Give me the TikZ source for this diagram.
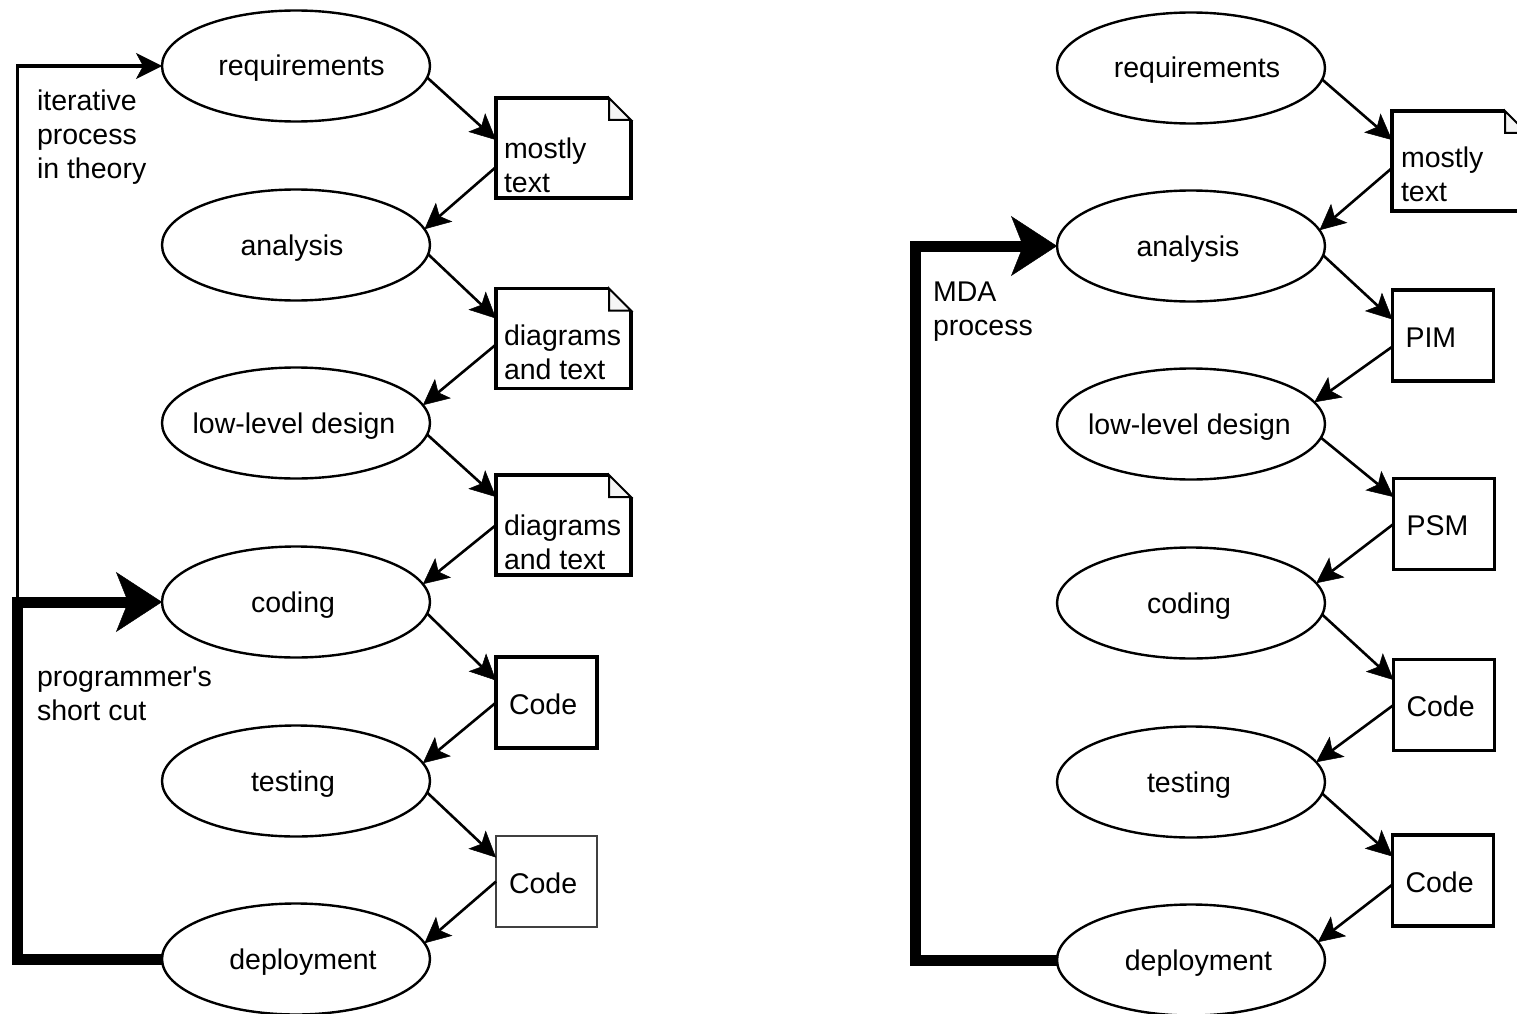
\documentclass[tikz,border=0pt]{standalone}
\usepackage{fontspec}
\setmainfont{Liberation Sans}
\usetikzlibrary{arrows.meta,shapes.geometric,calc}

\newcommand\ctext[2]{\makebox[0pt]{\hspace*{#1}#2}}
\newcommand\docoutline[2]{%
  \draw[line width=#2] ([xshift=-22pt]#1.north east) -- (#1.north west) -- (#1.south west) -- (#1.south east) -- ([yshift=-22pt]#1.north east);
  \draw[line width=2pt, fill=gray!8, line join=miter] ([xshift=-22pt]#1.north east) -- ([xshift=-22pt,yshift=-22pt]#1.north east) -- ([yshift=-22pt]#1.north east) -- cycle;
}

\begin{document}
\begin{tikzpicture}[x=1pt,y=-1pt,
  every node/.style={font=\fontsize{28.5}{34}\selectfont, inner sep=0pt, outer sep=0pt},
  proc/.style={ellipse, draw, line width=2.4pt, minimum width=268pt, minimum height=111pt, text height=22pt, text depth=2pt},
  codebox/.style={rectangle, draw, line width=3.3pt, minimum width=101pt, minimum height=91pt, inner xsep=13pt, text width=75pt, align=left, text height=24pt, text depth=1pt},
  docbox/.style={rectangle, minimum width=135pt, minimum height=100pt},
  doctext/.style={anchor=north west, align=left},
  flow/.style={line width=2.6pt, -{Stealth[length=26pt,width=25pt,inset=6pt,line width=0.5pt]}},
  thinloop/.style={line width=3.2pt, line join=miter, -{Stealth[length=26pt,width=26pt,inset=7pt,line width=0.5pt]}},
  bigloop/.style={line width=11pt, line join=miter, -{Stealth[length=46pt,width=60pt,inset=12pt,line width=0.5pt]}},
]
\fill[white] (0,0) rectangle (1517,1014);
\useasboundingbox (0,0) rectangle (1517,1014);

% ---------------- left diagram ----------------
\node[proc] (rl) at (296,66)  {\ctext{11pt}{requirements}};
\node[proc] (al) at (296,245) {\ctext{-8pt}{analysis}};
\node[proc] (ll) at (296,423) {\ctext{-4pt}{low-level design}};
\node[proc] (cl) at (296,602) {\ctext{-6pt}{coding}};
\node[proc] (tl) at (296,781) {\ctext{-6pt}{testing}};
\node[proc] (dl) at (296,959) {\ctext{14pt}{deployment}};

\node[docbox] (d1) at (563.5,148) {};
\node[docbox] (d2) at (563.5,338.5) {};
\node[docbox] (d3) at (563.5,525) {};
\docoutline{d1}{3.3pt}
\docoutline{d2}{3.3pt}
\docoutline{d3}{3.3pt}
\node[doctext] (d1t) at ([xshift=8pt,yshift=-38pt]d1.north west) {\rule{0pt}{22pt}mostly\\text};
\node[doctext] (d2t) at ([xshift=8pt,yshift=-35pt]d2.north west) {\rule{0pt}{22pt}diagrams\\and text};
\node[doctext] (d3t) at ([xshift=8pt,yshift=-38pt]d3.north west) {\rule{0pt}{22pt}diagrams\\and text};

\node[codebox] (c1) at (546.5,702.5) {Code};
\node[codebox, line width=2pt, draw=black!75] (c2) at (546.5,881.5) {Code};

\draw[flow] (rl.-5) -- ([yshift=8pt]d1.west);
\draw[flow] ([yshift=-19pt]d1.west) -- (al.7);
\draw[flow] (al.-4) -- ([yshift=20pt]d2.west);
\draw[flow] ([yshift=-6pt]d2.west) -- (ll.8);
\draw[flow] (ll.-5) -- ([yshift=28pt]d3.west);
\draw[flow] (d3.west) -- (cl.8);
\draw[flow] (cl.-5) -- ([yshift=22pt]c1.west);
\draw[flow] (c1.west) -- (tl.8);
\draw[flow] (tl.-5) -- ([yshift=24pt]c2.west);
\draw[flow] (c2.west) -- (dl.7);

\coordinate (jl) at (17.5,600);
\draw[thinloop] (jl) |- (rl.west);
\draw[bigloop] (dl.west) -| ([xshift=-144.5pt]cl.west) -- (cl.west);

\node[doctext] (lab1) at (37,88) {\rule{0pt}{22pt}iterative\\process\\in theory};
\node[doctext] (lab2) at (37,664) {\rule{0pt}{22pt}programmer\textquotesingle s\\short cut};

% ---------------- right diagram ----------------
\node[proc] (rr) at (1191,68)  {\ctext{12pt}{requirements}};
\node[proc] (ar) at (1191,246) {\ctext{-6pt}{analysis}};
\node[proc] (lr) at (1191,424) {\ctext{-3pt}{low-level design}};
\node[proc] (cr) at (1191,603) {\ctext{-4pt}{coding}};
\node[proc] (tr) at (1191,782) {\ctext{-4pt}{testing}};
\node[proc] (dr) at (1191,960) {\ctext{15pt}{deployment}};

\node[docbox] (dR) at (1459.5,161) {};
\docoutline{dR}{3.3pt}
\node[doctext] (dRt) at ([xshift=9pt,yshift=-34pt]dR.north west) {\rule{0pt}{22pt}mostly\\text};

\node[codebox] (pim) at (1443,335.5) {PIM};
\node[codebox] (psm) at (1444,524) {PSM};
\node[codebox] (cR1) at (1444,705) {Code};
\node[codebox] (cR2) at (1443,880.5) {Code};

\draw[flow] (rr.-5) -- ([yshift=21pt]dR.west);
\draw[flow] ([yshift=-7pt]dR.west) -- (ar.7);
\draw[flow] (ar.-4) -- ([yshift=16pt]pim.west);
\draw[flow] ([yshift=-11pt]pim.west) -- (lr.10);
\draw[flow] (lr.-6) -- ([yshift=27pt]psm.west);
\draw[flow] (psm.west) -- (cr.9);
\draw[flow] (cr.-5) -- ([yshift=25pt]cR1.west);
\draw[flow] (cR1.west) -- (tr.9);
\draw[flow] (tr.-5) -- ([yshift=24pt]cR2.west);
\draw[flow] ([yshift=-4pt]cR2.west) -- (dr.8);

\draw[bigloop] (dr.west) -| ([xshift=-142pt]ar.west) -- (ar.west);

\node[doctext] (lab3) at (933,279) {\rule{0pt}{22pt}MDA\\process};
\end{tikzpicture}
\end{document}
